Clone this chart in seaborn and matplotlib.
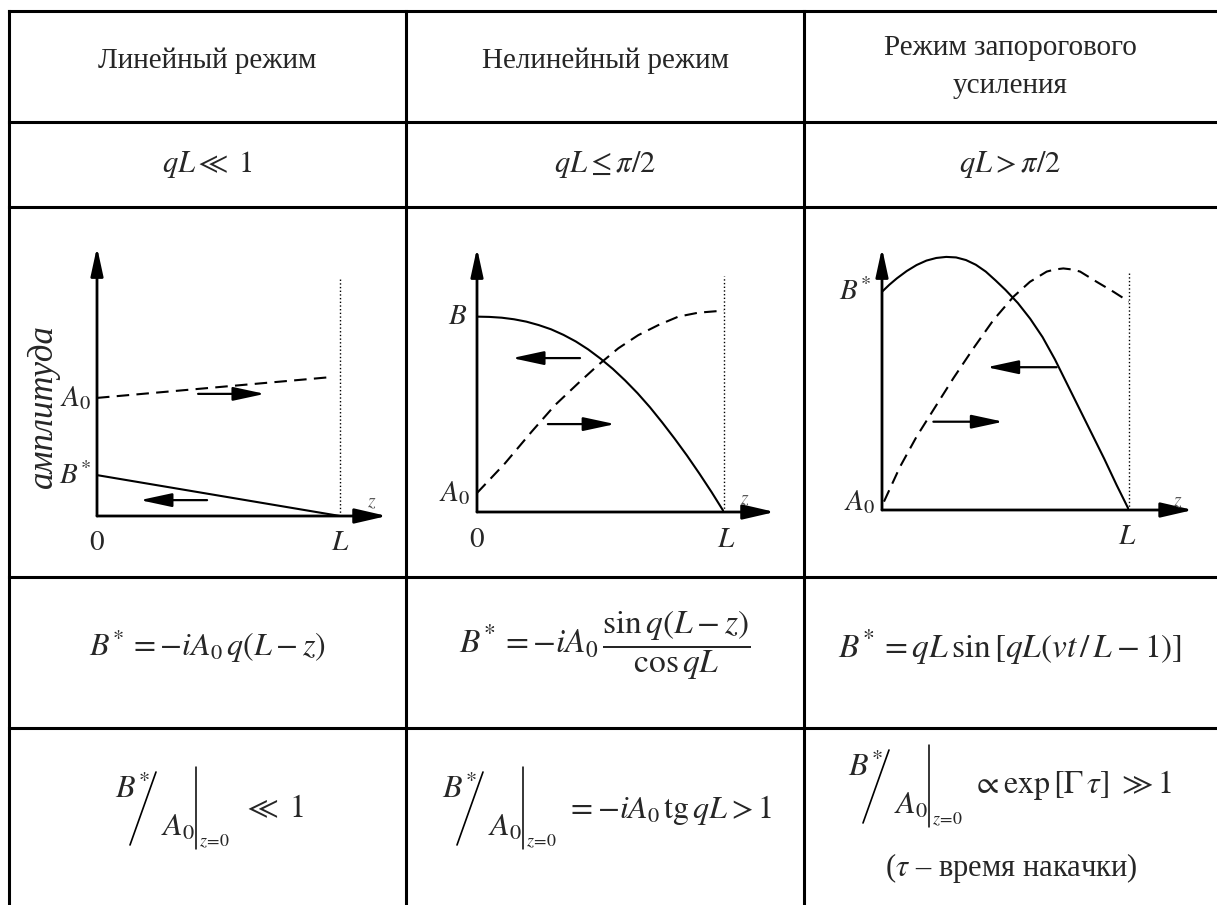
import numpy as np
import pandas as pd
import seaborn as sns
from matplotlib import pyplot as plt

sns.set_style("white")
plt.rcParams['font.family'] = ['Liberation Serif', 'DejaVu Serif']
plt.rcParams['mathtext.fontset'] = 'stix'

W, H = 1217, 905

# table text
headers = ["Линейный режим", "Нелинейный режим", "Режим запорогового\nусиления"]
conditions = [r"$qL \ll\ 1$", r"$qL \leq \pi/2$", r"$qL > \pi/2$"]
solutions = [r"$B^{\!*} = -iA_0\,q(L-z)$",
             r"$B^{\!*} = -iA_0\,\dfrac{\sin q(L-z)}{\cos qL}$",
             r"$B^{\!*} = qL\,\sin\left[qL(vt\,/\,L-1)\right]$"]
gains = [r"$\ll\ 1$", r"$= -iA_0\,\mathrm{tg}\,qL > 1$", r"$\propto \exp\left[\Gamma\,\tau\right]\ \gg 1$"]
note = "($\\tau$ – время накачки)"

# curves: z/L and amplitude (fraction of axis height)
lin_z = [0.0, 0.971]
lin_A = [0.439, 0.517]
lin_Bz = [0.0, 1.0]
lin_B = [0.152, 0.0]

nl_z = [0.0, 0.05, 0.10, 0.15, 0.20, 0.25, 0.30, 0.35, 0.40, 0.45, 0.50,
        0.55, 0.60, 0.65, 0.70, 0.75, 0.80, 0.85, 0.90, 0.95, 1.0]
nl_B = [0.740, 0.739, 0.736, 0.730, 0.721, 0.708, 0.692, 0.671, 0.646, 0.616, 0.581,
        0.542, 0.498, 0.450, 0.397, 0.339, 0.278, 0.214, 0.146, 0.075, 0.0]
nl_Az = [0.0, 0.113, 0.221, 0.316, 0.410, 0.491, 0.572, 0.653, 0.734, 0.815, 0.896, 1.0]
nl_A = [0.072, 0.184, 0.304, 0.405, 0.488, 0.557, 0.620, 0.670, 0.708, 0.740, 0.755, 0.763]

th_Bz = [0.0, 0.03, 0.06, 0.10, 0.14, 0.18, 0.22, 0.26, 0.30, 0.34, 0.38, 0.42, 0.46,
         0.50, 0.55, 0.60, 0.65, 0.70, 0.75, 0.80, 0.85, 0.90, 0.95, 1.0]
th_B = [0.833, 0.860, 0.884, 0.912, 0.935, 0.952, 0.962, 0.966, 0.964, 0.954, 0.936, 0.910, 0.876,
        0.840, 0.790, 0.730, 0.660, 0.575, 0.480, 0.385, 0.290, 0.195, 0.095, 0.0]
th_Az = [0.008, 0.073, 0.140, 0.208, 0.289, 0.370, 0.451, 0.532, 0.599, 0.667, 0.70, 0.734,
         0.77, 0.802, 0.869, 0.937, 1.0]
th_A = [0.032, 0.165, 0.280, 0.382, 0.503, 0.617, 0.725, 0.814, 0.871, 0.910, 0.918, 0.922,
        0.918, 0.910, 0.871, 0.833, 0.795]

fig = plt.figure(figsize=(W / 100, H / 100), dpi=100)
ax = fig.add_axes([0, 0, 1, 1])
ax.set_xlim(0, W)
ax.set_ylim(H, 0)
ax.axis('off')

# table grid
row_y = [11, 122, 207, 577, 728]
col_x = [9, 406, 804]
for y in row_y:
    ax.plot([col_x[0], W], [y, y], color='black', lw=2.2, solid_capstyle='projecting')
for x in col_x:
    ax.plot([x, x], [row_y[0], H], color='black', lw=2.2, solid_capstyle='projecting')

centers = [207, 605, 1010]
ax.text(centers[0], 61, headers[0], ha='center', va='center', fontsize=21)
ax.text(centers[1], 61, headers[1], ha='center', va='center', fontsize=21)
ax.text(centers[2], 67, headers[2], ha='center', va='center', fontsize=21, linespacing=1.6)
for cx, t in zip(centers, conditions):
    ax.text(cx, 164, t, ha='center', va='center', fontsize=22)
ax.text(207, 646, solutions[0], ha='center', va='center', fontsize=23)
ax.text(605, 645, solutions[1], ha='center', va='center', fontsize=24)
ax.text(1010, 647, solutions[2], ha='center', va='center', fontsize=24)


def ratio(bx, y):
    # B*/A0 |z=0 drawn by pieces
    ax.text(bx - 63, y - 18, r"$B^{\!*}$", ha='center', va='center', fontsize=23)
    ax.plot([bx - 66, bx - 40], [y + 37, y - 36], color='black', lw=1.2)
    ax.text(bx - 18, y + 20, r"$A_0$", ha='center', va='center', fontsize=23)
    ax.plot([bx, bx], [y - 41, y + 41], color='black', lw=1.1)
    ax.text(bx + 3, y + 34, r"$z\!=\!0$", ha='left', va='center', fontsize=13)


ratio(196, 808)
ax.text(243, 810, gains[0], ha='left', va='center', fontsize=23)
ratio(523, 808)
ax.text(566, 810, gains[1], ha='left', va='center', fontsize=23)
ratio(929, 786)
ax.text(972, 785, gains[2], ha='left', va='center', fontsize=23)
ax.text(1011, 868, note, ha='center', va='center', fontsize=22)


def panel(x0, y_axis, x_L, y_top):
    pax = fig.add_axes([x0 / W, 1 - y_axis / H, (x_L - x0) / W, (y_axis - y_top) / H])
    pax.set_xlim(0, 1)
    pax.set_ylim(0, 1)
    pax.axis('off')
    return pax


def arrow(pax, tail, tip, lw=1.6, hl=1.3, hw=0.28):
    pax.annotate('', xy=tip, xytext=tail, annotation_clip=False,
                 arrowprops=dict(arrowstyle=f'-|>,head_length={hl},head_width={hw}',
                                 lw=lw, color='black', shrinkA=0, shrinkB=0,
                                 mutation_scale=15))


def axes_arrows(pax, xend, dot_top):
    arrow(pax, (0, 0), (0, 1.0), lw=2.0, hl=1.15, hw=0.25)
    arrow(pax, (0, 0), (xend, 0), lw=2.0, hl=1.3, hw=0.3)
    pax.plot([1, 1], [0, dot_top], color='black', lw=1.0, linestyle=':', clip_on=False)


lab = dict(ha='center', va='center', fontsize=21)
dash = dict(color='black', lw=1.5, linestyle=(0, (6, 3.5)))
solid = dict(color='black', lw=1.5)

# panel 1 - linear
p1 = panel(97, 516, 340, 247)
axes_arrows(p1, 1.193, 0.881)
sns.lineplot(x=lin_z, y=lin_A, ax=p1, estimator=None, sort=False, **dash)
sns.lineplot(x=lin_Bz, y=lin_B, ax=p1, estimator=None, sort=False, **solid)
arrow(p1, (0.416, 0.454), (0.691, 0.454))
arrow(p1, (0.453, 0.059), (0.177, 0.059))
p1.text(-0.09, 0.439, r"$A_{\mathit{0}}$", **lab)
p1.text(-0.09, 0.15, r"$B^{\!*}$", **lab)
p1.text(0, -0.1, r"$0$", **lab)
p1.text(1.0, -0.1, r"$L$", **lab)
p1.text(1.13, 0.05, r"$z$", ha='center', va='center', fontsize=14, color='0.35')
p1.text(-0.22, 0.41, "амплитуда", rotation=90, ha='center', va='center',
        fontsize=25, fontstyle='italic')

# panel 2 - nonlinear
p2 = panel(477, 512, 724, 248)
axes_arrows(p2, 1.206, 0.894)
sns.lineplot(x=nl_z, y=nl_B, ax=p2, estimator=None, sort=False, **solid)
sns.lineplot(x=nl_Az, y=nl_A, ax=p2, estimator=None, sort=False, **dash)
arrow(p2, (0.417, 0.583), (0.142, 0.583))
arrow(p2, (0.287, 0.333), (0.559, 0.333))
p2.text(-0.08, 0.74, r"$B$", **lab)
p2.text(-0.09, 0.072, r"$A_{\mathit{0}}$", **lab)
p2.text(0, -0.106, r"$0$", **lab)
p2.text(1.01, -0.106, r"$L$", **lab)
p2.text(1.085, 0.045, r"$z$", ha='center', va='center', fontsize=14, color='0.35')

# panel 3 - above threshold
p3 = panel(882, 510, 1129, 248)
axes_arrows(p3, 1.259, 0.906)
sns.lineplot(x=th_Bz, y=th_B, ax=p3, estimator=None, sort=False, **solid)
sns.lineplot(x=th_Az, y=th_A, ax=p3, estimator=None, sort=False, **dash)
arrow(p3, (0.707, 0.545), (0.424, 0.545))
arrow(p3, (0.208, 0.337), (0.491, 0.337))
p3.text(-0.11, 0.83, r"$B^{\!*}$", **lab)
p3.text(-0.09, 0.03, r"$A_{\mathit{0}}$", **lab)
p3.text(0.992, -0.103, r"$L$", **lab)
p3.text(1.198, 0.03, r"$z$", ha='center', va='center', fontsize=14, color='0.35')

fig.savefig('out.png', dpi=100)
